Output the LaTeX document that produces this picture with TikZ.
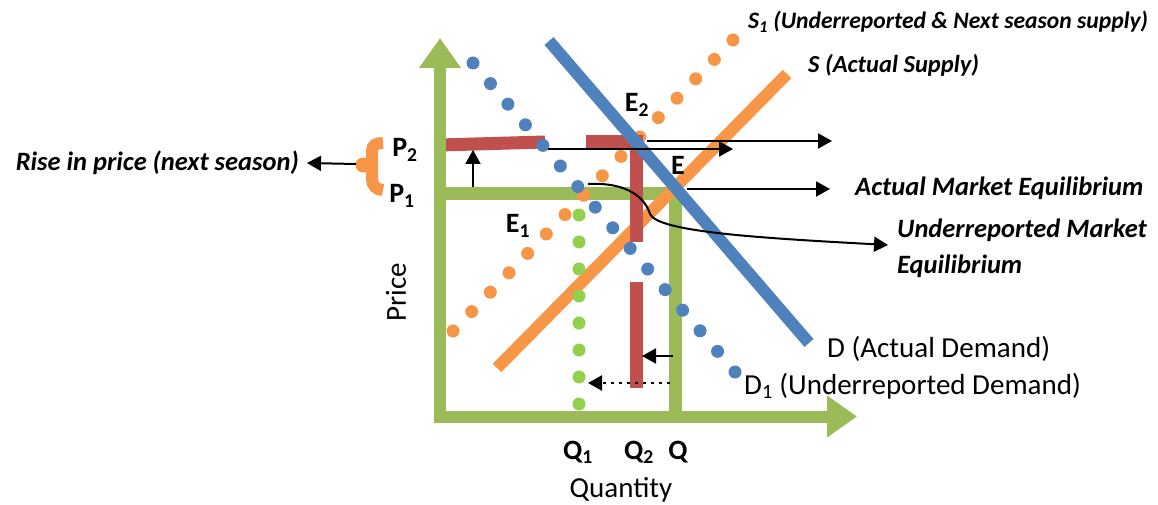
\documentclass[tikz,border=0pt]{standalone}
\usepackage{fontspec}
\setmainfont{Carlito}
\usetikzlibrary{arrows.meta, calc}
\definecolor{cgreen}{HTML}{9BBB59}
\definecolor{cgreendot}{HTML}{92D050}
\definecolor{cblue}{HTML}{4F81BD}
\definecolor{corange}{HTML}{F79646}
\definecolor{cred}{HTML}{C0504D}
\tikzset{
  axis/.style={draw=cgreen, line width=12pt, -{Triangle[length=30pt, width=40pt]}},
  frame/.style={draw=cgreen, line width=13pt},
  marker/.style={draw=cred, line width=13pt},
  curve/.style={line width=12pt},
  arr/.style={-{Triangle[length=14pt, width=15pt]}, line width=2pt},
  lbl/.style={font=\fontsize{29}{35}\selectfont, inner sep=0pt},
  note/.style={font=\fontsize{26.5}{36}\selectfont\bfseries\itshape, inner sep=0pt, align=left},
  pt/.style={font=\fontsize{28}{34}\selectfont\bfseries, inner sep=0pt},
}

\begin{document}
\begin{tikzpicture}[x=1pt, y=-1pt]
  \useasboundingbox (0,0) rectangle (1158,505);
  % equilibrium frame at P1 and Q
  \draw[frame] (440,193.5) -- (682,193.5);
  \draw[frame] (675.5,187) -- (675.5,416);
  % S1: underreported supply (dotted)
  \coordinate (s1a) at (453,331);
  \coordinate (s1b) at (733,40);
  \foreach \i in {0,...,15} \fill[corange] ($(s1a)!\i/15!(s1b)$) circle[radius=6.5pt];
  % S: actual supply
  \draw[curve, corange] (497,368) -- (787,74);
  % red markers
  \draw[marker] (440,145) -- (545,142);
  \draw[marker, miter limit=4] (586,142) -- (636.5,142) -- (636.5,242);
  \draw[marker] (636.5,282) -- (636.5,388);
  % D: actual demand
  \draw[curve, cblue] (549,41) -- (809,343);
  % D1: underreported demand (dotted)
  \coordinate (d1a) at (473,63);
  \coordinate (d1b) at (735,372);
  \foreach \i in {0,...,15} \fill[cblue] ($(d1a)!\i/15!(d1b)$) circle[radius=6.5pt];
  % Q1 (dotted)
  \foreach \y in {215,242,...,404} \fill[cgreendot] (579,\y) circle[radius=6.5pt];
  % axes
  \draw[axis] (440,416) -- (440,38);
  \draw[axis] (434,416.5) -- (857,416.5);
  % brace P1..P2
  \draw[corange, line width=12pt]
    (383,143) .. controls (376,143) and (372,145) .. (372,151) -- (372,179)
    .. controls (372,185) and (376,190) .. (383,190);
  \fill[corange] (363,165) circle[radius=7.5pt];
  % labels
  \node[note, anchor=east] (rise) at (299,163) {Rise in price (next season)};
  \node[pt] (p2) at (405,150) {P\textsubscript{2}};
  \node[pt] (p1) at (402,196) {P\textsubscript{1}};
  \node[pt] (e2) at (637,105) {E\textsubscript{2}};
  \node[pt] (e) at (678,165) {E};
  \node[pt] (e1) at (518,226) {E\textsubscript{1}};
  \node[pt] (q1) at (578,452) {Q\textsubscript{1}};
  \node[pt] (q2) at (639,452) {Q\textsubscript{2}};
  \node[pt] (q) at (678,452) {Q};
  \node[lbl] (quantity) at (621,490) {Quantity};
  \node[lbl, rotate=90] (price) at (396,292) {Price};
  \node[lbl, anchor=west] (dlab) at (827,349) {D (Actual Demand)};
  \node[lbl, anchor=west] (d1lab) at (744,386) {D\textsubscript{1} (Underreported Demand)};
  \node[note, anchor=west, font=\fontsize{23.6}{30}\selectfont\bfseries\itshape] (s1lab) at (748,22) {S\textsubscript{1} (Underreported \& Next season supply)};
  \node[note, anchor=west, font=\fontsize{24.5}{30}\selectfont\bfseries\itshape] (slab) at (808,65) {S (Actual Supply)};
  \node[note, anchor=west] (actual) at (855,188) {Actual Market Equilibrium};
  \node[note, anchor=north west] (under) at (897,219) {Underreported Market\\Equilibrium};
  % arrows
  \coordinate (brtip) at (356,164);
  \draw[arr] (brtip) -- ([xshift=8pt]rise.east);
  \coordinate (upa) at (473,187);
  \coordinate (upb) at (473,150);
  \draw[arr] (upa) -- (upb);
  \coordinate (dota) at (548,149);
  \coordinate (dotb) at (733,149);
  \draw[arr] (dota) -- (dotb);
  \coordinate (e2a) at (647,141);
  \coordinate (e2b) at (832,141);
  \draw[arr] (e2a) -- (e2b);
  \coordinate (ea) at (687,189);
  \draw[arr] (ea) -- ([xshift=-25pt]actual.west |- ea);
  \coordinate (e1a) at (588,184);
  \draw[arr] (e1a) .. controls (628,182) and (645,198) .. (650,214)
    .. controls (658,232) and (760,238) .. ([xshift=-9pt]under.north west |- 0,245);
  \coordinate (qa) at (673,356);
  \coordinate (qb) at (642,356);
  \draw[arr] (qa) -- (qb);
  \coordinate (qc) at (670,383);
  \coordinate (qd) at (588,383);
  \draw[arr, line width=2.5pt, dash pattern=on 3pt off 5pt] (qc) -- (qd);
\end{tikzpicture}
\end{document}
